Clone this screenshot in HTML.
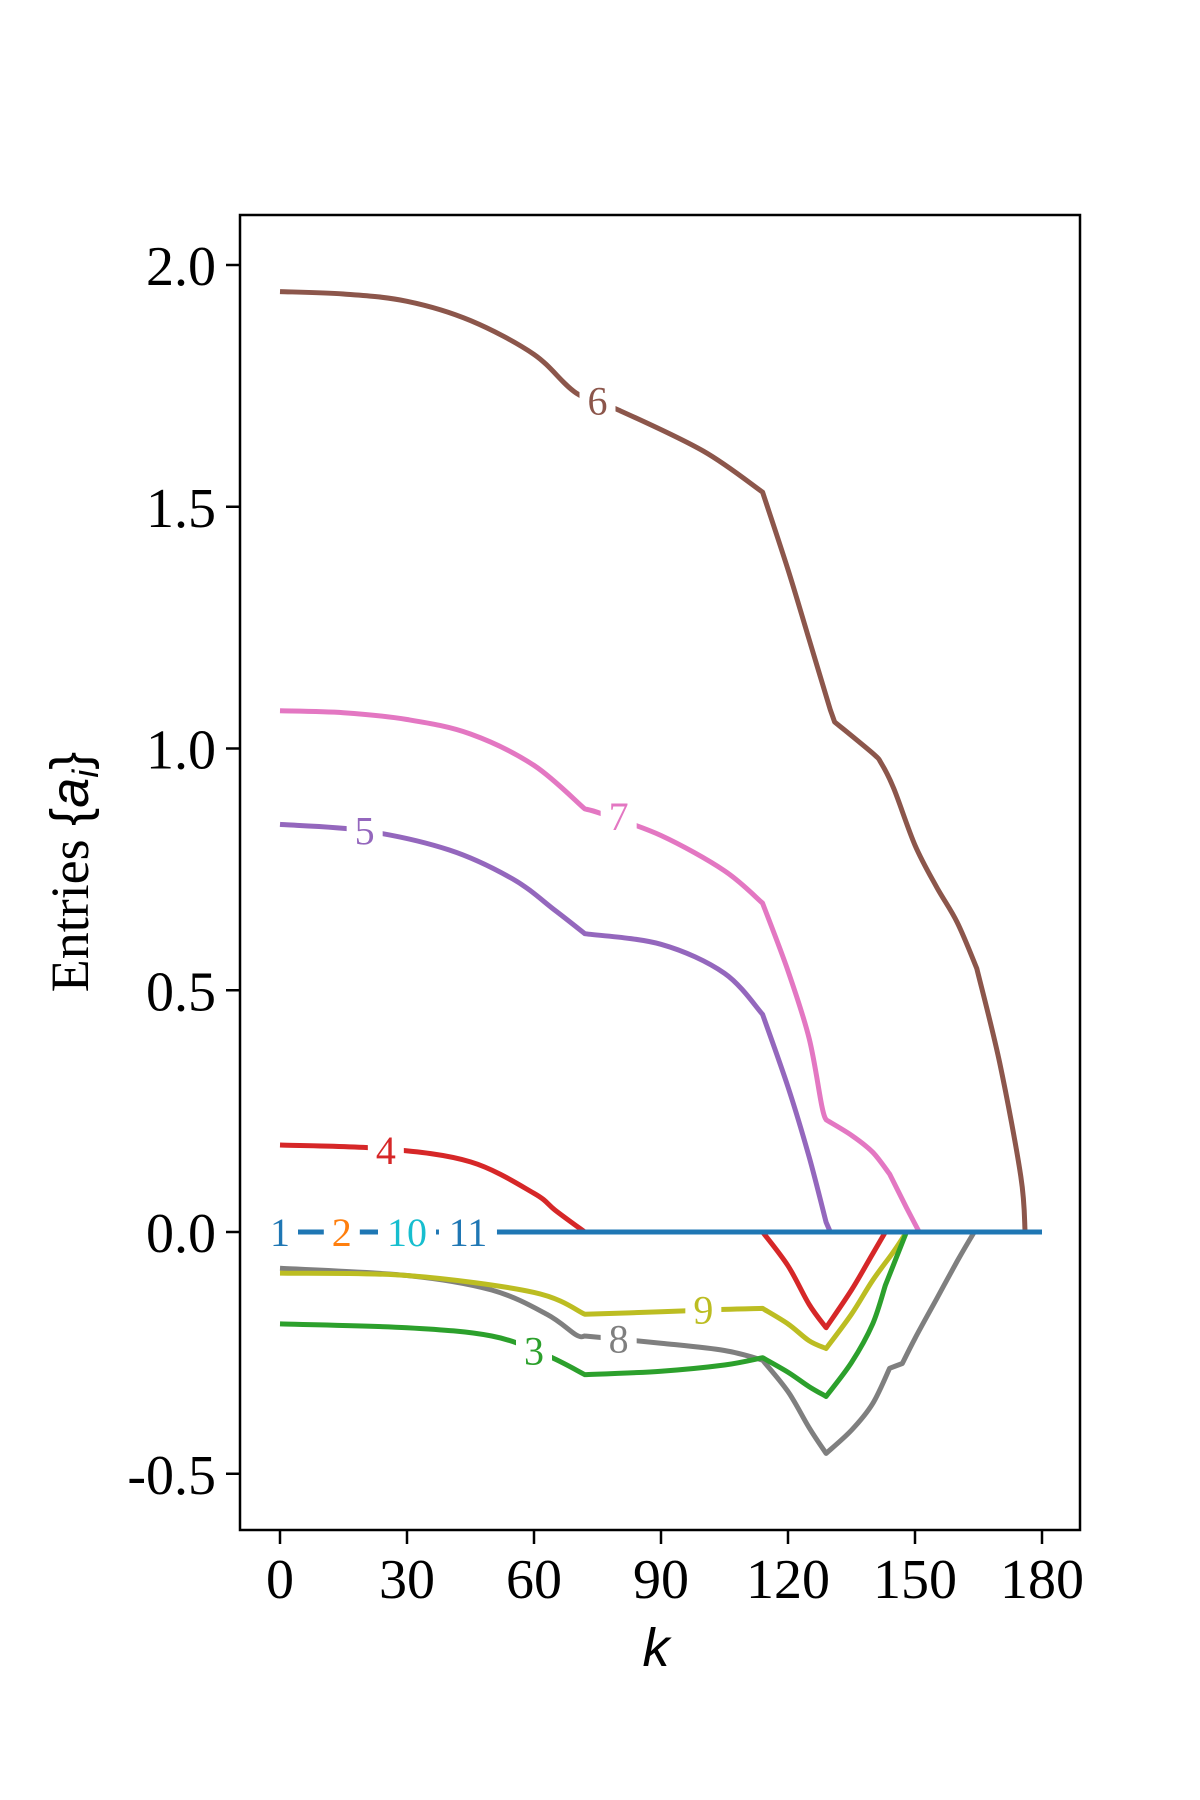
<!DOCTYPE html>
<html><head><meta charset="utf-8"><style>
html,body{margin:0;padding:0;background:#fff;}
svg{display:block;}
svg text{font-family:"Liberation Serif","Times New Roman",serif;}
</style></head><body>
<svg id="chart" width="1200" height="1800" viewBox="0 0 1200 1800" xmlns="http://www.w3.org/2000/svg"></svg>
<script>
const xTicks=[0,30,60,90,120,150,180];
const yTicks=[-0.5,0,0.5,1.0,1.5,2.0];
const yTickLabels=["-0.5","0.0","0.5","1.0","1.5","2.0"];
const k6=[0,15,30,45,60,70,80,100,114,120,125,130,131,140,142,145,150,155,160,164.6,170,175,176];
const v6=[1.945,1.94,1.925,1.885,1.815,1.735,1.70,1.615,1.53,1.37,1.225,1.08,1.055,0.99,0.97,0.917,0.80,0.715,0.64,0.545,0.35,0.115,0];
const k7=[0,15,30,45,60,72,76,90,105,114,120,125,128,129,135,140,144,148,151];
const v7=[1.078,1.074,1.06,1.03,0.965,0.875,0.865,0.82,0.747,0.68,0.54,0.40,0.26,0.232,0.2,0.165,0.12,0.05,0];
const k5=[0,20,40,55,65,72,90,105,114,120,125,129,130];
const v5=[0.843,0.83,0.79,0.73,0.665,0.617,0.595,0.535,0.45,0.30,0.155,0.02,0];
const k4=[0,25,45,60,65,72,114,120,125,129,135,140,143];
const v4=[0.18,0.172,0.145,0.08,0.045,0,0,-0.07,-0.15,-0.198,-0.12,-0.045,0];
const k9=[0,30,60,72,90,105,114,120,125,129,135,140,145,148];
const v9=[-0.085,-0.09,-0.125,-0.17,-0.165,-0.16,-0.158,-0.19,-0.225,-0.241,-0.17,-0.1,-0.04,0];
const k8=[0,30,50,63,70,72,90,105,114,120,125,129,135,140,144,147,150,155,160,164];
const v8=[-0.075,-0.09,-0.12,-0.17,-0.213,-0.215,-0.23,-0.245,-0.265,-0.33,-0.405,-0.458,-0.41,-0.355,-0.282,-0.272,-0.22,-0.14,-0.06,0];
const k3=[0,30,50,63,72,90,105,114,120,125,129,135,140,143,148];
const v3=[-0.19,-0.198,-0.215,-0.255,-0.295,-0.288,-0.275,-0.26,-0.29,-0.32,-0.34,-0.27,-0.19,-0.11,0];
const k0=[0,180];
const v0=[0,0];
const kinkK=[72,114,129,131,144,147,164.6,176,130,143,148,151,164];
const labels=[
 {t:"6",k:75,v:1.72,c:"#8c564b"},{t:"7",k:80,v:0.86,c:"#e377c2"},{t:"5",k:20,v:0.83,c:"#9467bd"},
 {t:"4",k:25,v:0.17,c:"#d62728"},{t:"9",k:100,v:-0.16,c:"#bcbd22"},{t:"8",k:80,v:-0.22,c:"#7f7f7f"},
 {t:"3",k:60,v:-0.245,c:"#2ca02c"},{t:"1",k:0,v:0,c:"#1f77b4"},{t:"2",k:14.6,v:0,c:"#ff7f0e"},
 {t:"10",k:30,v:0,c:"#17becf"},{t:"11",k:44.4,v:0,c:"#1f77b4"}];
const L=240,T=215,R=1080,B=1530;
const X=k=>280+k*127/30;
const Y=v=>1232-v*(1232-265)/2;
const svg=document.getElementById('chart');
const NS="http://www.w3.org/2000/svg";
function mk(tag,attrs,parent){const e=document.createElementNS(NS,tag);for(const a in attrs)e.setAttribute(a,attrs[a]);(parent||svg).appendChild(e);return e;}
function pathD(ks,vs){
 const P=ks.map((k,i)=>[X(k),Y(vs[i])]);
 const isK=i=>i===0||i===P.length-1||kinkK.indexOf(ks[i])>=0;
 let d="M"+P[0][0].toFixed(1)+","+P[0][1].toFixed(1);
 for(let i=0;i<P.length-1;i++){
  const p1=P[i],p2=P[i+1];
  const p0=isK(i)?p1:P[i-1];
  const p3=isK(i+1)?p2:P[i+2];
  const c1=[p1[0]+(p2[0]-p0[0])/6,p1[1]+(p2[1]-p0[1])/6];
  const c2=[p2[0]-(p3[0]-p1[0])/6,p2[1]-(p3[1]-p1[1])/6];
  d+=" C"+c1[0].toFixed(1)+","+c1[1].toFixed(1)+" "+c2[0].toFixed(1)+","+c2[1].toFixed(1)+" "+p2[0].toFixed(1)+","+p2[1].toFixed(1);
 }
 return d;
}
const series=[[k8,v8,"#7f7f7f","series-8"],[k9,v9,"#bcbd22","series-9"],[k3,v3,"#2ca02c","series-3"],[k4,v4,"#d62728","series-4"],[k5,v5,"#9467bd","series-5"],[k7,v7,"#e377c2","series-7"],[k6,v6,"#8c564b","series-6"],[k0,v0,"#1f77b4","series-1-2-10-11"]];
series.forEach(s=>{
 const p=mk('path',{d:pathD(s[0],s[1]),fill:"none",stroke:s[2],"stroke-width":5,"stroke-linejoin":"round"});
 
 
});
labels.forEach(l=>{
 const w=l.t.length*22+14;
 const r=mk('rect',{x:X(l.k)-w/2,y:Y(l.v)-20,width:w,height:40,fill:"#fff"});
 
 
 const t=mk('text',{x:X(l.k),y:Y(l.v)+14,"text-anchor":"middle","font-size":40,fill:l.c});
 t.textContent=l.t;
 
 
});
const fr=mk('rect',{x:L,y:T,width:R-L,height:B-T,fill:"none",stroke:"#000","stroke-width":2.5});


xTicks.forEach(k=>{
 const ln=mk('line',{x1:X(k),x2:X(k),y1:B,y2:B+14,stroke:"#000","stroke-width":2.5});
 
 
 const t=mk('text',{x:X(k),y:B+68,"text-anchor":"middle","font-size":56});
 t.textContent=k;
 
 
});
yTicks.forEach((v,i)=>{
 const ln=mk('line',{x1:L-14,x2:L,y1:Y(v),y2:Y(v),stroke:"#000","stroke-width":2.5});
 
 
 const t=mk('text',{x:L-24,y:Y(v)+20,"text-anchor":"end","font-size":56});
 t.textContent=yTickLabels[i];
 
 
});
const xl=mk('text',{x:656,y:1666,"text-anchor":"middle","font-size":54,"font-style":"italic",style:"font-family:'Liberation Sans',sans-serif"});
xl.textContent="k";


const yl=mk('text',{x:0,y:0,"text-anchor":"middle","font-size":54,transform:"translate(88,872) rotate(-90)"});
yl.innerHTML='Entries <tspan style="font-family:\'Liberation Sans\',sans-serif">{</tspan><tspan font-style="italic" style="font-family:\'Liberation Sans\',sans-serif">a</tspan><tspan font-style="italic" style="font-family:\'Liberation Sans\',sans-serif" font-size="36" dy="10">i</tspan><tspan dy="-10" style="font-family:\'Liberation Sans\',sans-serif">}</tspan>';


</script>
</body></html>
